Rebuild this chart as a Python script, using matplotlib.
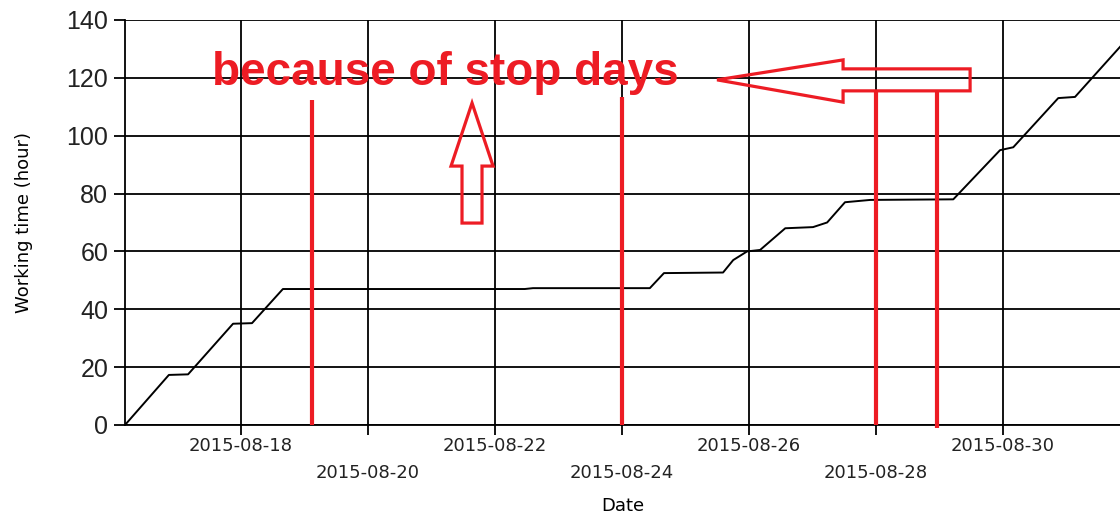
import matplotlib
matplotlib.use("Agg")
import matplotlib.pyplot as plt
import matplotlib.dates as mdates
import pandas as pd
from matplotlib.patches import Polygon

#--------------- data ----------#
dates = ["2015-08-16 04:10", "2015-08-16 20:45", "2015-08-17 04:00", "2015-08-17 21:00",
         "2015-08-18 04:10", "2015-08-18 15:50", "2015-08-22 11:15", "2015-08-22 14:20",
         "2015-08-24 10:30", "2015-08-24 15:50", "2015-08-25 14:10", "2015-08-25 18:00",
         "2015-08-25 23:15", "2015-08-26 04:10", "2015-08-26 13:40", "2015-08-27 00:10",
         "2015-08-27 05:30", "2015-08-27 12:15", "2015-08-27 21:50", "2015-08-29 05:10",
         "2015-08-29 22:50", "2015-08-30 03:50", "2015-08-30 20:50", "2015-08-31 03:10",
         "2015-08-31 20:10"]
hours = [0, 17.3, 17.5, 35, 35.2, 47, 47, 47.3, 47.3, 52.5, 52.7, 57, 60, 60.5, 68,
         68.4, 70, 77, 77.8, 78, 95, 96, 113, 113.4, 130.7]

# red marks for the stop days (date, top value)
stop_dates = ["2015-08-19 02:50", "2015-08-24 00:00", "2015-08-28 00:00", "2015-08-28 23:00"]
stop_tops = [112.3, 113.4, 115.8, 115.8]

note_text = "because of stop days"
RED = "#ed1c24"

#--------------- plot ----------#
t = pd.to_datetime(dates)
fig = plt.figure(figsize=(11.2, 5.15), dpi=100)
ax = fig.add_axes([0.1116, 0.1748, 0.8884, 0.7864])

ax.plot(t, hours, color="black", lw=1.4, zorder=3)

ax.set_xlim(t[0], t[-1])
ax.set_ylim(0, 140)
ax.set_yticks(range(0, 141, 20))
ax.xaxis.set_major_locator(mdates.DayLocator(bymonthday=[18, 20, 22, 24, 26, 28, 30]))
ax.xaxis.set_major_formatter(mdates.DateFormatter("%Y-%m-%d"))
ax.grid(True, color="black", lw=1.3)
ax.set_axisbelow(True)
for s in ["top", "right"]:
    ax.spines[s].set_visible(False)
for s in ["left", "bottom"]:
    ax.spines[s].set_linewidth(1.3)

ax.tick_params(axis="x", length=7, width=1.3, labelsize=13, labelcolor="#222222")
ax.tick_params(axis="y", length=8, width=1.3, pad=4, labelsize=18, labelcolor="#222222")
for lab in ax.get_yticklabels():
    lab.set_family("Liberation Sans")
fig.canvas.draw()
for i, tk in enumerate(ax.xaxis.get_major_ticks()):
    tk.set_pad(2 if i % 2 == 0 else 21)

ax.set_xlabel("Date", fontsize=13, labelpad=11)
ax.set_ylabel("Working time (hour)", fontsize=13, labelpad=24)

# stop day lines
for d, top in zip(pd.to_datetime(stop_dates), stop_tops):
    ax.plot([d, d], [-1 if d.hour == 23 else 0, top], color=RED, lw=3, zorder=4,
            clip_on=False, solid_capstyle="butt")

# big left arrow and up arrow (outlines)
base = pd.Timestamp("2015-08-18")
def pts(xy):
    return [(mdates.date2num(base + pd.Timedelta(days=x)), y) for x, y in xy]

left_arrow = pts([(7.496, 119.3), (9.48, 126.2), (9.48, 123.1), (11.48, 123.1),
                  (11.48, 115.5), (9.48, 115.5), (9.48, 111.6)])
up_arrow = pts([(3.638, 111.3), (3.969, 89.5), (3.795, 89.5), (3.795, 69.8),
                (3.48, 69.8), (3.48, 89.5), (3.307, 89.5)])
for poly in (left_arrow, up_arrow):
    ax.add_patch(Polygon(poly, closed=True, fill=False, edgecolor=RED, lw=2.3,
                         joinstyle="miter", zorder=5))

ax.text(pd.Timestamp("2015-08-17 13:00"), 117.5, note_text, color=RED,
        fontsize=33, fontweight="bold", family="Liberation Sans",
        va="baseline", ha="left", zorder=6)

fig.savefig("out.png", dpi=100)
